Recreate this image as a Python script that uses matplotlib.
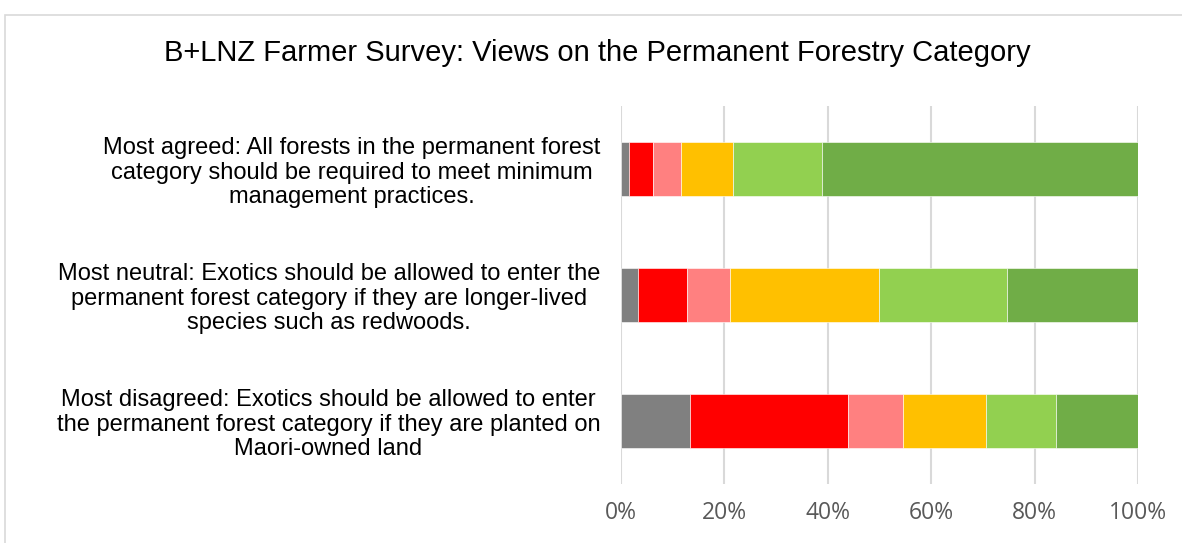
import matplotlib
matplotlib.use("Agg")
import matplotlib.pyplot as plt
from matplotlib.patches import Rectangle
import numpy as np

title = "B+LNZ Farmer Survey: Views on the Permanent Forestry Category"
categories = [
    "Most agreed: All forests in the permanent forest\ncategory should be required to meet minimum\nmanagement practices.",
    "Most neutral: Exotics should be allowed to enter the\npermanent forest category if they are longer-lived\nspecies such as redwoods.",
    "Most disagreed: Exotics should be allowed to enter\nthe permanent forest category if they are planted on\nMaori-owned land",
]
# segment shares (%) per statement, left to right
seg_gray = [1.6, 3.3, 13.4]
seg_red = [4.6, 9.5, 30.6]
seg_pink = [5.4, 8.2, 10.5]
seg_orange = [10.0, 28.9, 16.1]
seg_lightgreen = [17.2, 24.8, 13.6]
seg_darkgreen = [61.2, 25.3, 15.8]
series = [seg_gray, seg_red, seg_pink, seg_orange, seg_lightgreen, seg_darkgreen]
colors = ["#808080", "#FF0000", "#FF8080", "#FFC000", "#92D050", "#70AD47"]
xticks = [0, 20, 40, 60, 80, 100]
xticklabels = ["0%", "20%", "40%", "60%", "80%", "100%"]

W, H, DPI = 1182, 543, 100
fig = plt.figure(figsize=(W / DPI, H / DPI), dpi=DPI)
fig.patch.set_facecolor("white")

# chart border (top-left visible)
fig.add_artist(Rectangle((5 / W, -0.1), 1.2, (H - 15) / H + 0.1, transform=fig.transFigure,
                         fill=False, edgecolor="#d9d9d9", linewidth=1.2))

ax = fig.add_axes([621 / W, 1 - 484 / H, (1138 - 621) / W, (484 - 106) / H])
y = np.arange(len(categories))
left = np.zeros(len(categories))
for vals, c in zip(series, colors):
    v = np.array(vals, dtype=float)
    ax.barh(y, v, left=left, height=0.43, color=c, edgecolor="white", linewidth=0.4, zorder=3)
    left += v

ax.set_xlim(0, 100)
ax.set_ylim(len(categories) - 0.5, -0.5)
ax.set_xticks(xticks)
ax.set_xticklabels(xticklabels, fontsize=16.5, color="#595959", family=["Open Sans", "DejaVu Sans"])
ax.set_yticks(y)
ax.set_yticklabels(categories, fontsize=17, color="black", family=["Liberation Sans", "DejaVu Sans"],
                   multialignment="center", linespacing=1.15)
ax.tick_params(axis="x", length=0, pad=12)
ax.tick_params(axis="y", length=0, pad=15)
ax.grid(axis="x", color="#d9d9d9", linewidth=1.5, zorder=0)
for s in ax.spines.values():
    s.set_visible(False)

fig.text(597 / W, 1 - 53 / H, title, ha="center", va="center", fontsize=21,
         family=["Liberation Sans", "DejaVu Sans"], color="black")

fig.savefig("out.png", dpi=DPI)
